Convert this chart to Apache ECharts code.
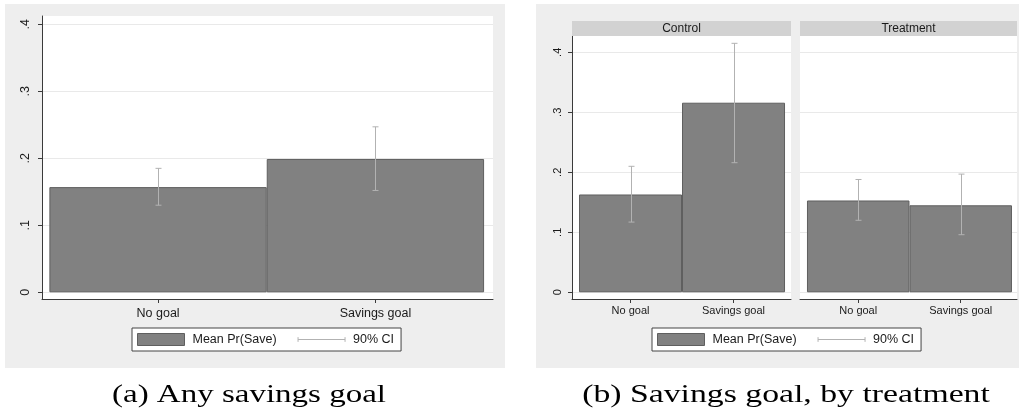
<!DOCTYPE html>
<html>
<head>
<meta charset="utf-8">
<script src="https://cdn.jsdelivr.net/npm/echarts@6/dist/echarts.min.js"></script>
<style>
  html, body { margin: 0; padding: 0; background: #fff; }
  #chart { width: 1024px; height: 417px; }
</style>
</head>
<body>
<div id="chart"></div>
<script>
// Savings outcomes: mean Pr(Save) with 90% confidence intervals
const categories = ['No goal', 'Savings goal'];

// (a) Any savings goal
const anyGoalMean = [0.157, 0.199];
const anyGoalLow = [0.130, 0.152];
const anyGoalHigh = [0.185, 0.247];

// (b) By treatment arm
const panelTitles = ['Control', 'Treatment'];
const controlMean = [0.163, 0.316];
const controlLow = [0.117, 0.216];
const controlHigh = [0.210, 0.415];
const treatmentMean = [0.153, 0.145];
const treatmentLow = [0.120, 0.096];
const treatmentHigh = [0.188, 0.197];

const yTicks = [0, 0.1, 0.2, 0.3, 0.4];
const xTicks = [0, 1];
const captions = ['(a) Any savings goal', '(b) Savings goal, by treatment'];
const meanName = 'Mean Pr(Save)';
const ciName = '90% CI';

const FONT = '"Liberation Sans", Arial, Helvetica, sans-serif';
const SERIF = '"Liberation Serif", "Times New Roman", serif';
const AXIS_COLOR = '#3a3a3a';
const BAR_COLOR = '#818181';
const BAR_EDGE = '#5f5f5f';
const CI_COLOR = '#b2b2b2';

function tickFormat(v) {
  if (Math.abs(v) < 1e-9) return '0';
  return String(Math.round(v * 10) / 10).replace(/^0\./, '.');
}

function barData(values) {
  return values.map((v, i) => [i, v]);
}
function ciData(low, high) {
  return low.map((lo, i) => [i, lo, high[i]]);
}

function makeXAxis(gridIndex, min, max, fontSize, margin) {
  return {
    type: 'value', gridIndex, min, max,
    axisLine: { show: true, onZero: false, lineStyle: { color: AXIS_COLOR, width: 1 } },
    axisTick: { show: true, customValues: xTicks, length: 4, lineStyle: { color: AXIS_COLOR } },
    axisLabel: {
      show: true, customValues: xTicks, margin,
      formatter: v => categories[Math.round(v)] || '',
      color: '#1a1a1a', fontFamily: FONT, fontSize
    },
    splitLine: { show: false }
  };
}

function makeYAxis(gridIndex, min, max, showAxis, fontSize, margin) {
  return {
    type: 'value', gridIndex, min, max,
    axisLine: { show: showAxis, onZero: false, lineStyle: { color: AXIS_COLOR, width: 1 } },
    axisTick: { show: showAxis, customValues: yTicks, length: 4, lineStyle: { color: AXIS_COLOR } },
    axisLabel: {
      show: showAxis, customValues: yTicks, rotate: 90, margin,
      formatter: tickFormat,
      color: '#1a1a1a', fontFamily: FONT, fontSize
    },
    splitLine: { show: true, lineStyle: { color: '#e9e9e9', width: 1 } }
  };
}

function barSeries(idx, values) {
  return {
    name: meanName, type: 'bar',
    xAxisIndex: idx, yAxisIndex: idx,
    data: barData(values),
    barWidth: '100%',
    itemStyle: { color: BAR_COLOR, borderColor: BAR_EDGE, borderWidth: 1 },
    emphasis: { disabled: true },
    z: 2
  };
}

function ciSeries(idx, low, high) {
  return {
    name: ciName, type: 'custom',
    xAxisIndex: idx, yAxisIndex: idx,
    data: ciData(low, high),
    encode: { x: 0, y: [1, 2] },
    itemStyle: { color: CI_COLOR },
    z: 3,
    renderItem(params, api) {
      const x = api.value(0);
      const pLo = api.coord([x, api.value(1)]);
      const pHi = api.coord([x, api.value(2)]);
      const cap = 3;
      const st = { stroke: CI_COLOR, lineWidth: 1 };
      const cx = Math.round(pLo[0]) + 0.5;
      return {
        type: 'group',
        children: [
          { type: 'line', shape: { x1: cx, y1: pLo[1], x2: cx, y2: pHi[1] }, style: st },
          { type: 'line', shape: { x1: cx - cap, y1: pLo[1], x2: cx + cap, y2: pLo[1] }, style: st },
          { type: 'line', shape: { x1: cx - cap, y1: pHi[1], x2: cx + cap, y2: pHi[1] }, style: st }
        ]
      };
    }
  };
}

function makeLegend(left, fontSize) {
  return {
    left, top: 328,
    orient: 'horizontal',
    padding: [5, 7, 5, 5],
    itemWidth: 47, itemHeight: 12, itemGap: 21,
    backgroundColor: '#ffffff',
    borderColor: '#444444', borderWidth: 1, borderRadius: 0,
    selectedMode: false,
    textStyle: { fontFamily: FONT, fontSize, color: '#1a1a1a', padding: [0, 0, 0, 3] },
    data: [
      { name: meanName, icon: 'rect', itemStyle: { color: BAR_COLOR, borderColor: BAR_EDGE, borderWidth: 1 } },
      { name: ciName, icon: 'path://M0,4L40,4M0,2L0,6M40,2L40,6',
        itemStyle: { color: 'rgba(0,0,0,0)', borderColor: CI_COLOR, borderWidth: 1 } }
    ]
  };
}

const chart = echarts.init(document.getElementById('chart'), null, { renderer: 'canvas' });

const option = {
  animation: false,
  backgroundColor: '#ffffff',
  textStyle: { fontFamily: FONT },
  grid: [
    { left: 42, top: 16, width: 451, height: 283, show: true, backgroundColor: '#ffffff', borderWidth: 0, containLabel: false },
    { left: 572, top: 36, width: 219, height: 263, show: true, backgroundColor: '#ffffff', borderWidth: 0, containLabel: false },
    { left: 800, top: 36, width: 217, height: 263, show: true, backgroundColor: '#ffffff', borderWidth: 0, containLabel: false }
  ],
  xAxis: [
    makeXAxis(0, -0.534, 1.541, 12.5, 8),
    makeXAxis(1, -0.568, 1.558, 11, 6),
    makeXAxis(2, -0.568, 1.549, 11, 6)
  ],
  yAxis: [
    makeYAxis(0, -0.0100, 0.4124, true, 12.5, 10),
    makeYAxis(1, -0.0112, 0.4272, true, 11, 9),
    makeYAxis(2, -0.0112, 0.4272, false, 11, 9)
  ],
  legend: [makeLegend(132, 12.5), makeLegend(652, 12.5)],
  graphic: [
    // panel backgrounds
    { type: 'rect', z: -10, silent: true, shape: { x: 5, y: 4, width: 500, height: 364 }, style: { fill: '#eeeeee' } },
    { type: 'rect', z: -10, silent: true, shape: { x: 536, y: 4, width: 483, height: 364 }, style: { fill: '#eeeeee' } },
    // facet strips
    { type: 'rect', z: 5, silent: true, shape: { x: 572, y: 21, width: 219, height: 15 }, style: { fill: '#d2d2d2' } },
    { type: 'rect', z: 5, silent: true, shape: { x: 800, y: 21, width: 217, height: 15 }, style: { fill: '#d2d2d2' } },
    { type: 'text', z: 6, silent: true, x: 681.5, y: 28.5,
      style: { text: panelTitles[0], align: 'center', verticalAlign: 'middle', font: '12px ' + FONT, fill: '#1a1a1a' } },
    { type: 'text', z: 6, silent: true, x: 908.5, y: 28.5,
      style: { text: panelTitles[1], align: 'center', verticalAlign: 'middle', font: '12px ' + FONT, fill: '#1a1a1a' } },
    // captions
    { type: 'text', z: 6, silent: true, x: 249, y: 395, scaleX: 1.32,
      style: { text: captions[0], align: 'center', verticalAlign: 'middle', font: '25px ' + SERIF, fill: '#000' } },
    { type: 'text', z: 6, silent: true, x: 786, y: 395, scaleX: 1.35,
      style: { text: captions[1], align: 'center', verticalAlign: 'middle', font: '25px ' + SERIF, fill: '#000' } }
  ],
  series: [
    barSeries(0, anyGoalMean),
    ciSeries(0, anyGoalLow, anyGoalHigh),
    barSeries(1, controlMean),
    ciSeries(1, controlLow, controlHigh),
    barSeries(2, treatmentMean),
    ciSeries(2, treatmentLow, treatmentHigh)
  ]
};

chart.setOption(option);
</script>
</body>
</html>
